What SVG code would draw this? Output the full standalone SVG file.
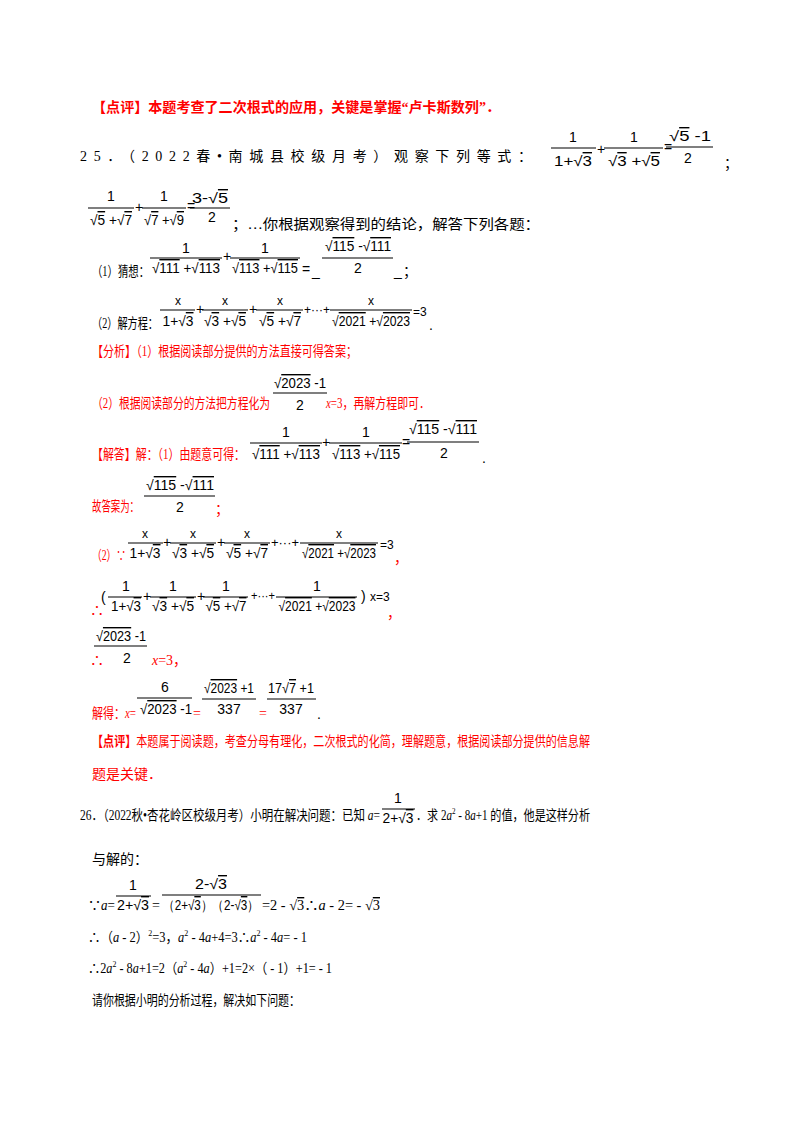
<svg xmlns="http://www.w3.org/2000/svg" width="800" height="1132" viewBox="0 0 800 1132">
<style>
.cn{font-family:"Liberation Serif","Noto Sans CJK SC",serif;font-size:14px;fill:#000}
.r{fill:#ff0000}
.b{font-weight:bold}
.m{font-family:"Liberation Sans","DejaVu Sans",sans-serif;font-size:14px;fill:#000}
.ms{font-family:"Liberation Sans","DejaVu Sans",sans-serif;font-size:12px;fill:#000}
.i{font-style:italic}
line{stroke:#000;stroke-width:1.2}
.o{text-decoration:overline}
</style>
<rect width="800" height="1132" fill="#fff"/>
<g id="review1">
<text class="cn r b" x="92" y="112" textLength="408" lengthAdjust="spacingAndGlyphs">【点评】本题考查了二次根式的应用，关键是掌握“卢卡斯数列”．</text>
</g>
<g id="q25">
<text class="cn" x="80" y="161" textLength="452" lengthAdjust="spacing">25．（2022春•南城县校级月考）观察下列等式：</text>
<text class="m" x="573" y="142" text-anchor="middle">1</text><line x1="551" y1="148" x2="596" y2="148"/><text class="m" x="573" y="166" text-anchor="middle" textLength="38" lengthAdjust="spacingAndGlyphs">1+√<tspan class="o">3</tspan></text>
<text class="m" x="597" y="154">+</text>
<text class="m" x="634" y="142" text-anchor="middle">1</text><line x1="604" y1="148" x2="663" y2="148"/><text class="m" x="634" y="166" text-anchor="middle" textLength="52" lengthAdjust="spacingAndGlyphs">√<tspan class="o">3</tspan> +√<tspan class="o">5</tspan></text>
<text class="m" x="664" y="152">=</text>
<text class="m" x="690" y="141" text-anchor="middle" textLength="42" lengthAdjust="spacingAndGlyphs">√<tspan class="o">5</tspan> -1</text><line x1="666" y1="147" x2="713" y2="147"/><text class="m" x="688" y="163" text-anchor="middle">2</text>
<text class="cn" x="724" y="168">；</text>

<text class="m" x="111" y="201" text-anchor="middle">1</text><line x1="88" y1="208" x2="134" y2="208"/><text class="m" x="111" y="225" text-anchor="middle" textLength="42" lengthAdjust="spacingAndGlyphs">√<tspan class="o">5</tspan> +√<tspan class="o">7</tspan></text>
<text class="m" x="135" y="212">+</text>
<text class="m" x="164" y="201" text-anchor="middle">1</text><line x1="142" y1="208" x2="186" y2="208"/><text class="m" x="164" y="225" text-anchor="middle" textLength="40" lengthAdjust="spacingAndGlyphs">√<tspan class="o">7</tspan> +√<tspan class="o">9</tspan></text>
<text class="m" x="187" y="211">=</text>
<text class="m" x="210" y="203" text-anchor="middle" textLength="36" lengthAdjust="spacingAndGlyphs">3-√<tspan class="o">5</tspan></text><line x1="190" y1="208" x2="230" y2="208"/><text class="m" x="212" y="222" text-anchor="middle">2</text>
<text class="cn" x="232" y="229" textLength="308" lengthAdjust="spacingAndGlyphs">；…你根据观察得到的结论，解答下列各题：</text>

<text class="cn" x="92" y="276" textLength="57" lengthAdjust="spacingAndGlyphs">（1）猜想：</text>
<text class="m" x="186" y="253" text-anchor="middle">1</text><line x1="150" y1="258" x2="222" y2="258"/><text class="m" x="186" y="273" text-anchor="middle" textLength="68" lengthAdjust="spacingAndGlyphs">√<tspan class="o">111</tspan> +√<tspan class="o">113</tspan></text>
<text class="m" x="223" y="261">+</text>
<text class="m" x="265" y="253" text-anchor="middle">1</text><line x1="230" y1="258" x2="300" y2="258"/><text class="m" x="265" y="273" text-anchor="middle" textLength="66" lengthAdjust="spacingAndGlyphs">√<tspan class="o">113</tspan> +√<tspan class="o">115</tspan></text>
<text class="m" x="302" y="274">=</text><text class="m" x="312" y="276">_</text>
<text class="m" x="358" y="251" text-anchor="middle" textLength="66" lengthAdjust="spacingAndGlyphs">√<tspan class="o">115</tspan> -√<tspan class="o">111</tspan></text><line x1="322" y1="258" x2="393" y2="258"/><text class="m" x="358" y="273" text-anchor="middle">2</text>
<text class="m" x="394" y="276">_</text><text class="cn" x="403" y="276">；</text>

<text class="cn" x="92" y="328" textLength="66" lengthAdjust="spacingAndGlyphs">（2）解方程：</text>
<text class="ms" x="178" y="305" text-anchor="middle">x</text><line x1="160" y1="310" x2="195" y2="310"/><text class="m" x="178" y="326" text-anchor="middle" textLength="31" lengthAdjust="spacingAndGlyphs">1+√<tspan class="o">3</tspan></text>
<text class="m" x="196" y="314">+</text>
<text class="ms" x="225" y="305" text-anchor="middle">x</text><line x1="202" y1="310" x2="248" y2="310"/><text class="m" x="225" y="326" text-anchor="middle" textLength="42" lengthAdjust="spacingAndGlyphs">√<tspan class="o">3</tspan> +√<tspan class="o">5</tspan></text>
<text class="m" x="249" y="314">+</text>
<text class="ms" x="280" y="305" text-anchor="middle">x</text><line x1="256" y1="310" x2="303" y2="310"/><text class="m" x="280" y="326" text-anchor="middle" textLength="42" lengthAdjust="spacingAndGlyphs">√<tspan class="o">5</tspan> +√<tspan class="o">7</tspan></text>
<text class="ms" x="304" y="314" textLength="26" lengthAdjust="spacingAndGlyphs">+···+</text>
<text class="ms" x="371" y="305" text-anchor="middle">x</text><line x1="330" y1="310" x2="412" y2="310"/><text class="m" x="371" y="326" text-anchor="middle" textLength="78" lengthAdjust="spacingAndGlyphs">√<tspan class="o">2021</tspan> +√<tspan class="o">2023</tspan></text>
<text class="ms" x="413" y="316">=3</text><text class="m" x="429" y="330">.</text>
</g>
<g id="analysis">
<text class="cn r" x="92" y="356" textLength="265" lengthAdjust="spacingAndGlyphs">【分析】（1）根据阅读部分提供的方法直接可得答案；</text>
<text class="cn r" x="92" y="408" textLength="178" lengthAdjust="spacingAndGlyphs">（2）根据阅读部分的方法把方程化为</text>
<text class="m" x="300" y="388" text-anchor="middle" textLength="52" lengthAdjust="spacingAndGlyphs">√<tspan class="o">2023</tspan> -1</text><line x1="273" y1="393" x2="327" y2="393"/><text class="m" x="300" y="410" text-anchor="middle">2</text>
<text class="cn r" x="326" y="408" textLength="104" lengthAdjust="spacingAndGlyphs"><tspan class="i">x</tspan>=3，再解方程即可．</text>
</g>
<g id="answer">
<text class="cn r" x="92" y="459" textLength="153" lengthAdjust="spacingAndGlyphs">【解答】解：（1）由题意可得：</text>
<text class="m" x="286" y="437" text-anchor="middle">1</text><line x1="250" y1="443" x2="322" y2="443"/><text class="m" x="286" y="459" text-anchor="middle" textLength="68" lengthAdjust="spacingAndGlyphs">√<tspan class="o">111</tspan> +√<tspan class="o">113</tspan></text>
<text class="m" x="322" y="447">+</text>
<text class="m" x="366" y="437" text-anchor="middle">1</text><line x1="329" y1="443" x2="402" y2="443"/><text class="m" x="366" y="459" text-anchor="middle" textLength="68" lengthAdjust="spacingAndGlyphs">√<tspan class="o">113</tspan> +√<tspan class="o">115</tspan></text>
<text class="m" x="402" y="447">=</text>
<text class="m" x="443" y="434" text-anchor="middle" textLength="68" lengthAdjust="spacingAndGlyphs">√<tspan class="o">115</tspan> -√<tspan class="o">111</tspan></text><line x1="407" y1="442" x2="479" y2="442"/><text class="m" x="444" y="458" text-anchor="middle">2</text>
<text class="m r" x="482" y="463">.</text>

<text class="cn r" x="92" y="511" textLength="47" lengthAdjust="spacingAndGlyphs">故答案为：</text>
<text class="m" x="180" y="490" text-anchor="middle" textLength="68" lengthAdjust="spacingAndGlyphs">√<tspan class="o">115</tspan> -√<tspan class="o">111</tspan></text><line x1="144" y1="496" x2="215" y2="496"/><text class="m" x="180" y="512" text-anchor="middle">2</text>
<text class="cn r" x="215" y="514">；</text>

<text class="cn r" x="92" y="560" textLength="34" lengthAdjust="spacingAndGlyphs">（2）∵</text>
<text class="ms" x="145" y="538" text-anchor="middle">x</text><line x1="128" y1="543" x2="163" y2="543"/><text class="m" x="145" y="558" text-anchor="middle" textLength="31" lengthAdjust="spacingAndGlyphs">1+√<tspan class="o">3</tspan></text>
<text class="m" x="163" y="547">+</text>
<text class="ms" x="193" y="538" text-anchor="middle">x</text><line x1="170" y1="543" x2="216" y2="543"/><text class="m" x="193" y="558" text-anchor="middle" textLength="42" lengthAdjust="spacingAndGlyphs">√<tspan class="o">3</tspan> +√<tspan class="o">5</tspan></text>
<text class="m" x="217" y="547">+</text>
<text class="ms" x="247" y="538" text-anchor="middle">x</text><line x1="224" y1="543" x2="270" y2="543"/><text class="m" x="247" y="558" text-anchor="middle" textLength="42" lengthAdjust="spacingAndGlyphs">√<tspan class="o">5</tspan> +√<tspan class="o">7</tspan></text>
<text class="ms" x="271" y="547" textLength="28" lengthAdjust="spacingAndGlyphs">+···+</text>
<text class="ms" x="339" y="538" text-anchor="middle">x</text><line x1="300" y1="543" x2="378" y2="543"/><text class="m" x="339" y="558" text-anchor="middle" textLength="74" lengthAdjust="spacingAndGlyphs">√<tspan class="o">2021</tspan> +√<tspan class="o">2023</tspan></text>
<text class="ms" x="380" y="549">=3</text><text class="cn r" x="394" y="563">，</text>

<text class="cn r" x="90" y="615">∴</text>
<text class="m" x="101" y="602">(</text>
<text class="m" x="126" y="591" text-anchor="middle">1</text><line x1="108" y1="597" x2="142" y2="597"/><text class="m" x="126" y="611" text-anchor="middle" textLength="30" lengthAdjust="spacingAndGlyphs">1+√<tspan class="o">3</tspan></text>
<text class="m" x="143" y="601">+</text>
<text class="m" x="173" y="591" text-anchor="middle">1</text><line x1="150" y1="597" x2="196" y2="597"/><text class="m" x="173" y="611" text-anchor="middle" textLength="42" lengthAdjust="spacingAndGlyphs">√<tspan class="o">3</tspan> +√<tspan class="o">5</tspan></text>
<text class="m" x="197" y="601">+</text>
<text class="m" x="226" y="591" text-anchor="middle">1</text><line x1="203" y1="597" x2="248" y2="597"/><text class="m" x="226" y="611" text-anchor="middle" textLength="41" lengthAdjust="spacingAndGlyphs">√<tspan class="o">5</tspan> +√<tspan class="o">7</tspan></text>
<text class="ms" x="251" y="600" textLength="24" lengthAdjust="spacingAndGlyphs">+···+</text>
<text class="m" x="317" y="591" text-anchor="middle">1</text><line x1="276" y1="597" x2="357" y2="597"/><text class="m" x="317" y="611" text-anchor="middle" textLength="77" lengthAdjust="spacingAndGlyphs">√<tspan class="o">2021</tspan> +√<tspan class="o">2023</tspan></text>
<text class="m" x="361" y="601">)</text><text class="ms" x="370" y="601">x=3</text>
<text class="cn r" x="387" y="618">，</text>

<text class="m" x="121" y="641" text-anchor="middle" textLength="50" lengthAdjust="spacingAndGlyphs">√<tspan class="o">2023</tspan> -1</text><line x1="94" y1="646" x2="147" y2="646"/><text class="m" x="127" y="663" text-anchor="middle">2</text>
<text class="cn r" x="90" y="665">∴</text>
<text class="cn r" x="152" y="665"><tspan class="i">x</tspan>=3，</text>

<text class="cn r" x="92" y="718" textLength="44" lengthAdjust="spacingAndGlyphs">解得：<tspan class="i">x</tspan>=</text>
<text class="m" x="165" y="692" text-anchor="middle">6</text><line x1="137" y1="698" x2="192" y2="698"/><text class="m" x="166" y="714" text-anchor="middle" textLength="52" lengthAdjust="spacingAndGlyphs">√<tspan class="o">2023</tspan> -1</text>
<text class="cn r" x="193" y="718">=</text>
<text class="m" x="229" y="693" text-anchor="middle" textLength="50" lengthAdjust="spacingAndGlyphs">√<tspan class="o">2023</tspan> +1</text><line x1="202" y1="699" x2="256" y2="699"/><text class="m" x="229" y="714" text-anchor="middle">337</text>
<text class="cn r" x="259" y="718">=</text>
<text class="m" x="291" y="693" text-anchor="middle" textLength="46" lengthAdjust="spacingAndGlyphs">17√<tspan class="o">7</tspan> +1</text><line x1="267" y1="699" x2="316" y2="699"/><text class="m" x="291" y="714" text-anchor="middle">337</text>
<text class="m r" x="317" y="719">.</text>
</g>
<g id="review2">
<text class="cn r" x="92" y="746" textLength="498" lengthAdjust="spacingAndGlyphs"><tspan class="b">【点评】</tspan>本题属于阅读题，考查分母有理化，二次根式的化简，理解题意，根据阅读部分提供的信息解</text>
<text class="cn r" x="92" y="779">题是关键．</text>
</g>
<g id="q26">
<text class="cn" x="80" y="820" textLength="300" lengthAdjust="spacingAndGlyphs">26．（2022秋•杏花岭区校级月考）小明在解决问题：已知 <tspan class="i">a</tspan>=</text>
<text class="m" x="398" y="803" text-anchor="middle">1</text><line x1="382" y1="809" x2="415" y2="809"/><text class="m" x="398" y="823" text-anchor="middle" textLength="31" lengthAdjust="spacingAndGlyphs">2+√<tspan class="o">3</tspan></text>
<text class="cn" x="416" y="820" textLength="174" lengthAdjust="spacingAndGlyphs">．求 2<tspan class="i">a</tspan><tspan font-size="9" dy="-6">2</tspan><tspan dy="6"> - 8</tspan><tspan class="i">a</tspan>+1 的值，他是这样分析</text>
<text class="cn" x="92" y="864">与解的：</text>
<text class="cn" x="88" y="910" textLength="27" lengthAdjust="spacingAndGlyphs">∵<tspan class="i">a</tspan>=</text>
<text class="m" x="133" y="890" text-anchor="middle">1</text><line x1="116" y1="896" x2="151" y2="896"/><text class="m" x="133" y="910" text-anchor="middle" textLength="32" lengthAdjust="spacingAndGlyphs">2+√<tspan class="o">3</tspan></text>
<text class="cn" x="152" y="910">=</text>
<text class="m" x="211" y="889" text-anchor="middle" textLength="32" lengthAdjust="spacingAndGlyphs">2-√<tspan class="o">3</tspan></text><line x1="162" y1="895" x2="261" y2="895"/><text class="m" x="211" y="910" text-anchor="middle" textLength="96" lengthAdjust="spacingAndGlyphs">（2+√<tspan class="o">3</tspan>）（2-√<tspan class="o">3</tspan>）</text>
<text class="cn" x="262" y="910" textLength="118" lengthAdjust="spacingAndGlyphs">=2 - √<tspan class="o">3</tspan>∴<tspan class="i">a</tspan> - 2= - √<tspan class="o">3</tspan></text>
<text class="cn" x="88" y="942" textLength="219" lengthAdjust="spacingAndGlyphs">∴（<tspan class="i">a</tspan> - 2）<tspan font-size="9" dy="-6">2</tspan><tspan dy="6">=3，</tspan><tspan class="i">a</tspan><tspan font-size="9" dy="-6">2</tspan><tspan dy="6"> - 4</tspan><tspan class="i">a</tspan>+4=3∴<tspan class="i">a</tspan><tspan font-size="9" dy="-6">2</tspan><tspan dy="6"> - 4</tspan><tspan class="i">a</tspan>= - 1</text>
<text class="cn" x="88" y="973" textLength="244" lengthAdjust="spacingAndGlyphs">∴2<tspan class="i">a</tspan><tspan font-size="9" dy="-6">2</tspan><tspan dy="6"> - 8</tspan><tspan class="i">a</tspan>+1=2（<tspan class="i">a</tspan><tspan font-size="9" dy="-6">2</tspan><tspan dy="6"> - 4</tspan><tspan class="i">a</tspan>）+1=2×（ - 1）+1= - 1</text>
<text class="cn" x="92" y="1005" textLength="208" lengthAdjust="spacingAndGlyphs">请你根据小明的分析过程，解决如下问题：</text>
</g>
</svg>
